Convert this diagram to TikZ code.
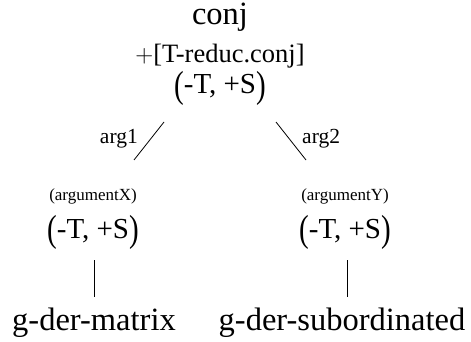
\documentclass[tikz,border=0pt]{standalone}
\usepackage{fontspec}
\setmainfont{Liberation Serif}
\begin{document}
\begin{tikzpicture}[x=1pt,y=1pt,
  big/.style={inner sep=0pt,anchor=base,font=\fontsize{32.5}{36}\selectfont},
  mid/.style={inner sep=0pt,anchor=base,font=\fontsize{26.5}{30}\selectfont},
  pair/.style={inner sep=0pt,anchor=base,font=\fontsize{29}{33}\selectfont},
  lab/.style={inner sep=0pt,font=\fontsize{21.5}{24}\selectfont},
  tiny/.style={inner sep=0pt,anchor=base,font=\fontsize{17}{19}\selectfont},
  branch/.style={line width=0.8pt}]
\useasboundingbox (0,0) rectangle (471,-342);
\newcommand{\tspair}{\raisebox{-0.12em}{\scalebox{1}[1.3]{(}}-T, +S\raisebox{-0.12em}{\scalebox{1}[1.3]{)}}}
% top
\node[big] (conj) at (220,-25) {conj};
\node[mid] (feat) at (220,-63) {$+$[T-reduc.conj]};
\node[pair] (top) at (220,-94) {\tspair};
% left child
\node[tiny] (argx) at (93,-200) {(argumentX)};
\node[pair] (left) at (93,-238) {\tspair};
\node[big] (gm) at (94,-330) {g-der-matrix};
% right child
\node[tiny] (argy) at (345,-200) {(argumentY)};
\node[pair] (right) at (345,-238) {\tspair};
\node[big] (gs) at (342,-330) {g-der-subordinated};
% branch ends
\coordinate (l1) at (164,-122);
\coordinate (l2) at (134,-160);
\coordinate (r1) at (276,-122);
\coordinate (r2) at (306,-160);
\coordinate (v1a) at (94,-260);
\coordinate (v1b) at (94,-297);
\coordinate (v2a) at (347,-260);
\coordinate (v2b) at (347,-297);
\draw[branch] (l1) -- (l2);
\draw[branch] (r1) -- (r2);
\draw[branch] (v1a) -- (v1b);
\draw[branch] (v2a) -- (v2b);
\node[lab,anchor=base east] (arg1) at (138,-143) {arg1};
\node[lab,anchor=base west] (arg2) at (302,-143) {arg2};
\end{tikzpicture}
\end{document}
